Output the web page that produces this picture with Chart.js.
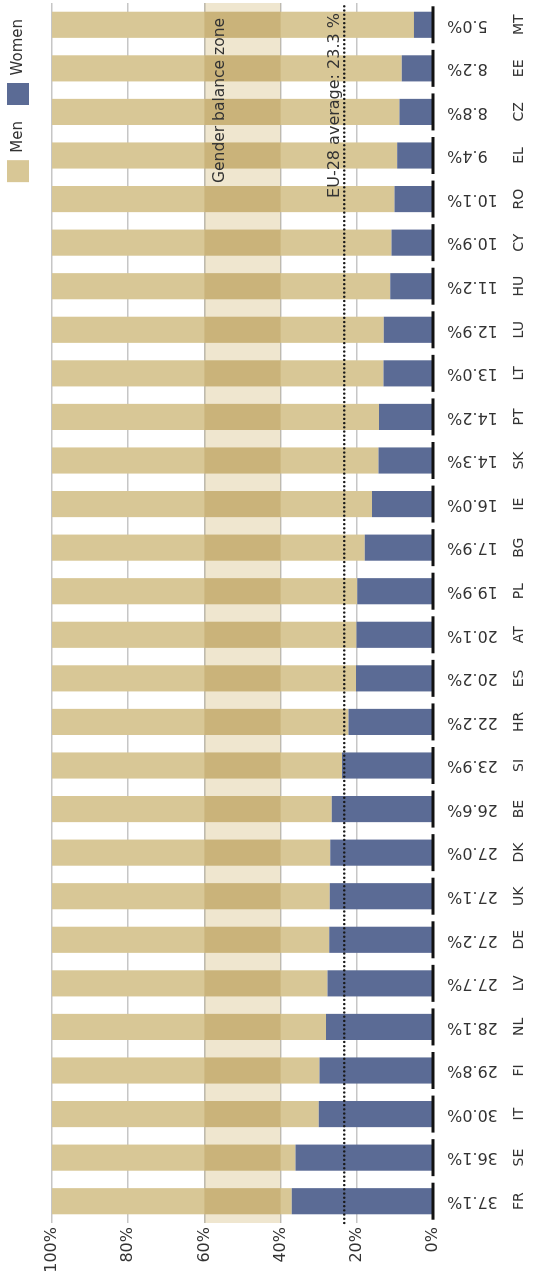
<!DOCTYPE html>
<html>
<head>
<meta charset="utf-8">
<title>Women among board members of the largest listed companies</title>
<script src="https://cdn.jsdelivr.net/npm/chart.js@4"></script>
<style>
  html, body { margin: 0; padding: 0; background: #fff; overflow: hidden; width: 533px; height: 1279px; }
  /* the chart is laid out landscape and turned a quarter turn */
  #wrap {
    position: absolute; width: 1279px; height: 533px;
    left: -373px; top: 373px;
    transform: rotate(-90deg); transform-origin: 50% 50%;
  }
  canvas { display: block; }
</style>
</head>
<body>
<div id="wrap"><canvas id="chart" width="1279" height="533"></canvas></div>
<script>
// Countries, ordered by share of women
const countries = ['FR','SE','IT','FI','NL','LV','DE','UK','DK','BE','SI','HR','ES','AT',
                   'PL','BG','IE','SK','PT','LT','LU','HU','CY','RO','EL','CZ','EE','MT'];

// Share of women (%)
const women = [37.1, 36.1, 30.0, 29.8, 28.1, 27.7, 27.2, 27.1, 27.0, 26.6, 23.9, 22.2, 20.2, 20.1,
               19.9, 17.9, 16.0, 14.3, 14.2, 13.0, 12.9, 11.2, 10.9, 10.1, 9.4, 8.8, 8.2, 5.0];

// Share of men (%)
const men = [62.9, 63.9, 70.0, 70.2, 71.9, 72.3, 72.8, 72.9, 73.0, 73.4, 76.1, 77.8, 79.8, 79.9,
             80.1, 82.1, 84.0, 85.7, 85.8, 87.0, 87.1, 88.8, 89.1, 89.9, 90.6, 91.2, 91.8, 95.0];

// Value axis ticks (%)
const valueTicks = [0, 20, 40, 60, 80, 100];

// EU-28 average share of women (%)
const euAverage = 23.3;

// Gender balance zone (%)
const balanceZone = [40, 60];

const FONT = "'DejaVu Sans', sans-serif";
const INK = '#333333';
const COL_MEN = '#d8c796';
const COL_WOMEN = '#5b6b95';

Chart.defaults.font.family = FONT;
Chart.defaults.color = INK;

// Shaded zone, EU average line, zero baseline marks and value labels
const overlays = {
  id: 'overlays',
  afterDatasetsDraw(chart) {
    const { ctx, chartArea: a, scales: { x, y } } = chart;

    // gender balance zone, multiplied over bars and background
    const zTop = y.getPixelForValue(balanceZone[1]);
    const zBot = y.getPixelForValue(balanceZone[0]);
    ctx.save();
    ctx.globalCompositeOperation = 'multiply';
    ctx.fillStyle = '#efe6cf';
    ctx.fillRect(a.left, zTop, a.right - a.left, zBot - zTop);
    ctx.restore();

    // heavy baseline under each bar
    const y0 = y.getPixelForValue(0);
    ctx.save();
    ctx.strokeStyle = '#111';
    ctx.lineWidth = 3;
    countries.forEach((c, i) => {
      const cx = x.getPixelForValue(i);
      ctx.beginPath();
      ctx.moveTo(cx - 18.5, y0);
      ctx.lineTo(cx + 18.5, y0);
      ctx.stroke();
    });
    ctx.restore();

    // EU-28 average, dotted
    const ya = y.getPixelForValue(euAverage);
    ctx.save();
    ctx.strokeStyle = '#1a1a1a';
    ctx.lineWidth = 2.4;
    ctx.lineCap = 'round';
    ctx.setLineDash([0.01, 4.2]);
    ctx.beginPath();
    ctx.moveTo(a.left, ya);
    ctx.lineTo(a.right, ya);
    ctx.stroke();
    ctx.restore();

    ctx.save();
    ctx.fillStyle = INK;
    ctx.textAlign = 'right';
    ctx.textBaseline = 'alphabetic';
    ctx.font = '16px ' + FONT;
    ctx.fillText('EU-28 average: ' + euAverage.toFixed(1) + ' %', a.right - 10, ya - 5);
    ctx.font = '15.5px ' + FONT;
    ctx.fillText('Gender balance zone', a.right - 15, zTop + 20);
    ctx.restore();

    // share of women written under each bar
    ctx.save();
    ctx.fillStyle = INK;
    ctx.font = '16px ' + FONT;
    ctx.textAlign = 'right';
    ctx.textBaseline = 'middle';
    women.forEach((v, i) => {
      ctx.save();
      ctx.translate(x.getPixelForValue(i), a.bottom + 14);
      ctx.rotate(-Math.PI / 2);
      ctx.fillText(v.toFixed(1) + '%', 0, 0);
      ctx.restore();
    });
    ctx.restore();
  }
};

new Chart(document.getElementById('chart'), {
  type: 'bar',
  data: {
    labels: countries,
    datasets: [
      { label: 'Women', data: women, backgroundColor: COL_WOMEN, borderWidth: 0 },
      { label: 'Men', data: men, backgroundColor: COL_MEN, borderWidth: 0 }
    ]
  },
  options: {
    responsive: false,
    animation: false,
    devicePixelRatio: 1,
    layout: { padding: { top: -9, right: 3, bottom: 0, left: 0 } },
    datasets: { bar: { barPercentage: 0.6, categoryPercentage: 1.0 } },
    plugins: {
      legend: {
        position: 'top',
        align: 'end',
        reverse: true,
        weight: 1000,
        labels: { boxWidth: 22, boxHeight: 22, padding: 16, color: INK, font: { size: 15 } }
      },
      // empty title used as a gap between legend and plot
      title: { display: true, text: '', weight: 500, padding: 0, font: { size: 13, lineHeight: 1 } },
      tooltip: { enabled: false }
    },
    scales: {
      x: {
        stacked: true,
        // long invisible tick marks leave room for the value labels
        grid: { display: true, drawOnChartArea: false, drawTicks: true, tickLength: 78, tickColor: 'rgba(0,0,0,0)' },
        border: { display: false },
        ticks: { padding: 0, color: INK, font: { size: 14 }, maxRotation: 0, autoSkip: false },
        afterFit(s) { s.height = 100; }
      },
      y: {
        stacked: true,
        min: 0,
        max: 100,
        afterBuildTicks(s) { s.ticks = valueTicks.map(v => ({ value: v })); },
        grid: {
          drawTicks: false,
          lineWidth: 1.5,
          color: ctx => (ctx.tick && ctx.tick.value === 0) ? 'rgba(0,0,0,0)' : '#c6c6c6'
        },
        border: { display: false },
        ticks: { padding: 4, color: INK, font: { size: 16 }, callback: v => v + '%' },
        afterFit(s) { s.width = 56; }
      }
    }
  },
  plugins: [overlays]
});
</script>
</body>
</html>
